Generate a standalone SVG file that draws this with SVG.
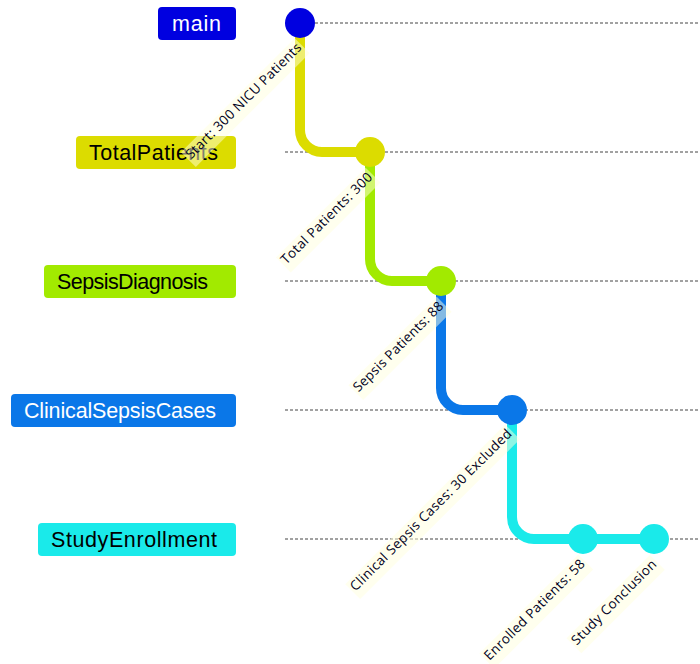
<svg xmlns="http://www.w3.org/2000/svg" width="700" height="664" viewBox="0 0 700 664">
<style>
.branch-line{stroke:#444;stroke-width:1;stroke-dasharray:3 2;fill:none}
.blabel{font-family:"Liberation Sans",Arial,sans-serif;font-size:21.5px}
.conn{fill:none;stroke-width:10;stroke-linecap:butt}
.clabel-bkg{fill:#ffffde;opacity:0.5}
.clabel{font-family:"Open Sans","Noto Sans",sans-serif;font-size:13.4px;fill:#000021}
</style>
<rect width="700" height="664" fill="#ffffff"/>
<g id="branch-lines">
<line class="branch-line" x1="285" y1="23" x2="700" y2="23"/>
<line class="branch-line" x1="285" y1="152" x2="700" y2="152"/>
<line class="branch-line" x1="285" y1="281" x2="700" y2="281"/>
<line class="branch-line" x1="285" y1="410" x2="700" y2="410"/>
<line class="branch-line" x1="285" y1="539" x2="700" y2="539"/>
</g>
<g id="branch-main"><rect x="158" y="7" width="78" height="33" rx="4" fill="#0000e0"/><text class="blabel" x="172" y="30.5" fill="#ffffff" textLength="49">main</text></g>
<g id="branch-TotalPatients"><rect x="76" y="136" width="160" height="33" rx="4" fill="#dcdc00"/><text class="blabel" x="89" y="159.5" fill="#000000" textLength="129">TotalPatients</text></g>
<g id="branch-SepsisDiagnosis"><rect x="44" y="265" width="192" height="33" rx="4" fill="#a2ea00"/><text class="blabel" x="57" y="288.5" fill="#000000" textLength="151">SepsisDiagnosis</text></g>
<g id="branch-ClinicalSepsisCases"><rect x="11" y="394" width="225" height="33" rx="4" fill="#0a77e8"/><text class="blabel" x="24" y="417.5" fill="#ffffff" textLength="192">ClinicalSepsisCases</text></g>
<g id="branch-StudyEnrollment"><rect x="38" y="523" width="198" height="33" rx="4" fill="#1aeaea"/><text class="blabel" x="51" y="546.5" fill="#000000" textLength="166">StudyEnrollment</text></g>
<g id="connectors">
<path class="conn" stroke="#dcdc00" d="M300,23 L300,130 A22,22 0 0 0 322,152 L370,152"/>
<path class="conn" stroke="#a2ea00" d="M370,152 L370,259 A22,22 0 0 0 392,281 L441,281"/>
<path class="conn" stroke="#0a77e8" d="M441,281 L441,388 A22,22 0 0 0 463,410 L512,410"/>
<path class="conn" stroke="#1aeaea" d="M512,410 L512,517 A22,22 0 0 0 534,539 L583,539"/>
<path class="conn" stroke="#1aeaea" d="M583,539 L654,539"/>
</g>
<g id="commit-start"><circle cx="300" cy="23" r="15" fill="#0000e0"/></g>
<g id="commit-total"><circle cx="370" cy="152" r="15" fill="#dcdc00"/></g>
<g id="commit-sepsis"><circle cx="441" cy="281" r="15" fill="#a2ea00"/></g>
<g id="commit-clinical"><circle cx="512" cy="410" r="15" fill="#0a77e8"/></g>
<g id="commit-enrolled"><circle cx="583" cy="539" r="15" fill="#1aeaea"/></g>
<g id="commit-conclusion"><circle cx="654" cy="539" r="15" fill="#1aeaea"/></g>
<g id="commit-labels">
<g transform="translate(-70.96,63.38) rotate(-45,300,23)"><rect class="clabel-bkg" x="219.5" y="35.5" width="161" height="21"/><text class="clabel" x="221.5" y="48" textLength="157">Start: 300 NICU Patients</text></g>
<g transform="translate(-58.04,51.82) rotate(-45,370,152)"><rect class="clabel-bkg" x="306.5" y="164.5" width="127" height="21"/><text class="clabel" x="308.5" y="177" textLength="123">Total Patients: 300</text></g>
<g transform="translate(-57.28,51.14) rotate(-45,441,281)"><rect class="clabel-bkg" x="378.5" y="293.5" width="125" height="21"/><text class="clabel" x="380.5" y="306" textLength="121">Sepsis Patients: 88</text></g>
<g transform="translate(-95.66,85.48) rotate(-45,512,410)"><rect class="clabel-bkg" x="399" y="422.5" width="226" height="21"/><text class="clabel" x="401" y="435" textLength="222">Clinical Sepsis Cases: 30 Excluded</text></g>
<g transform="translate(-62.98,56.24) rotate(-45,583,539)"><rect class="clabel-bkg" x="513" y="551.5" width="140" height="21"/><text class="clabel" x="515" y="564" textLength="136">Enrolled Patients: 58</text></g>
<g transform="translate(-54.62,48.76) rotate(-45,654,539)"><rect class="clabel-bkg" x="595" y="551.5" width="118" height="21"/><text class="clabel" x="597" y="564" textLength="114">Study Conclusion</text></g>
</g>
</svg>
